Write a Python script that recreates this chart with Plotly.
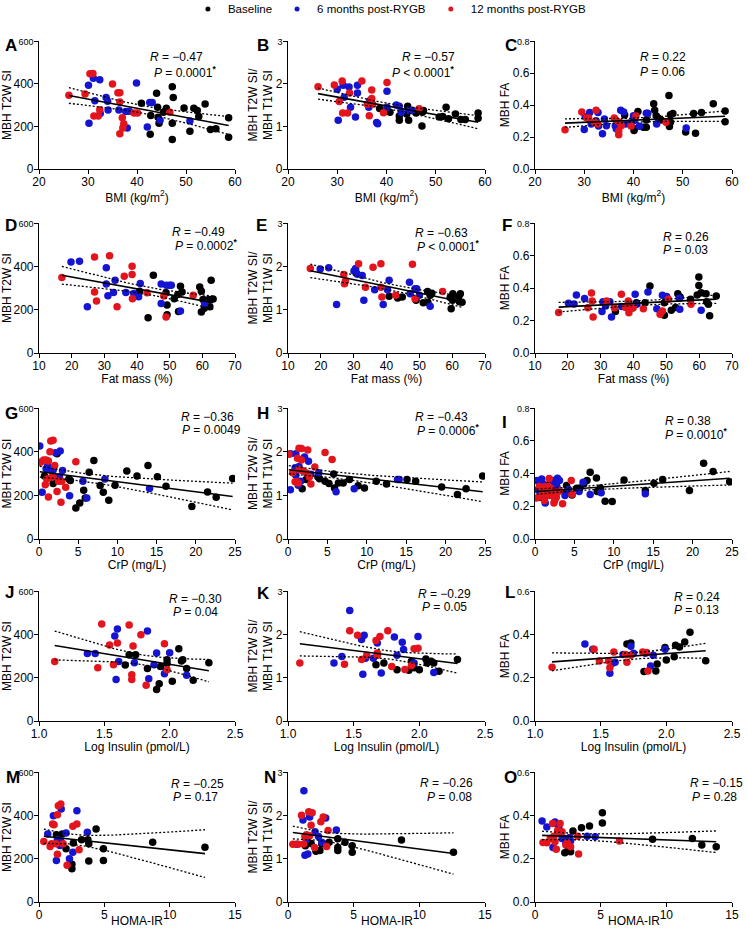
import numpy as np
import plotly.graph_objects as go

# ---------------- data: (x, y) per group ----------------
# A: BMI vs MBH T2W SI
A_base = [(40.9,308),(44.0,355),(44.2,289),(44.3,243),(44.5,215),(42.7,163),(42.8,251),(45.4,266),(46.0,285),(47.2,385),(47.4,335),(47.2,215),(47.2,138),(49.6,286),(51.6,285),(52.3,274),(52.6,246),(50.8,177),(53.9,305),(55.0,185),(56.1,189),(58.7,240),(58.7,149)]
A_six = [(30.1,392),(31.1,425),(32.4,418),(30.2,214),(31.4,320),(32.5,260),(33.7,335),(34.0,317),(34.1,277),(36.3,277),(37.7,269),(38.4,271),(38.0,192),(39.9,403),(42.1,197),(42.6,312),(43.1,312),(44.7,228),(50.8,225)]
A_twelve = [(26.1,346),(29.4,351),(30.4,446),(31.0,448),(31.2,249),(32.1,249),(32.4,278),(35.0,398),(36.1,358),(36.5,357),(36.5,314),(37.0,240),(37.3,212),(37.1,192),(36.5,165),(39.4,263),(40.1,262),(46.7,266)]

# B: BMI vs T2W/T1W ratio
B_base = [(38.6,1.42),(40.7,1.33),(42.6,1.24),(42.6,1.14),(44.1,1.29),(44.3,1.47),(44.5,1.14),(45.3,1.37),(46.0,1.31),(47.2,1.01),(47.3,1.33),(47.5,1.37),(50.7,1.22),(51.4,1.23),(52.1,1.45),(52.6,1.18),(54.0,1.29),(55.1,1.16),(56.0,1.16),(58.6,1.31),(58.6,1.19)]
B_six = [(30.2,1.14),(30.0,1.87),(31.2,1.96),(31.4,1.68),(32.4,1.92),(32.7,1.45),(33.7,1.22),(34.1,1.96),(34.1,1.78),(36.4,1.45),(36.6,1.60),(38.0,1.09),(38.2,1.06),(40.1,1.82),(40.1,1.45),(42.0,1.50),(42.6,1.47),(43.0,1.33),(44.6,1.37),(45.1,1.37)]
B_twelve = [(26.1,1.93),(29.4,1.97),(30.4,1.58),(31.0,2.06),(31.1,1.31),(32.1,1.31),(32.5,1.78),(35.0,2.06),(36.1,1.52),(36.5,1.25),(37.0,1.85),(37.0,1.65),(37.2,1.52),(39.4,1.32),(40.1,2.03),(46.6,1.41)]

# C: BMI vs MBH FA
C_base = [(38.2,0.337),(39.2,0.286),(40.1,0.241),(40.2,0.251),(40.9,0.359),(42.0,0.261),(42.6,0.261),(42.6,0.306),(44.1,0.408),(44.3,0.367),(44.6,0.333),(45.0,0.318),(45.6,0.306),(47.2,0.459),(47.3,0.265),(47.5,0.292),(47.5,0.339),(48.0,0.347),(50.6,0.231),(52.2,0.347),(52.6,0.224),(53.8,0.353),(56.2,0.408),(58.6,0.363),(58.6,0.296)]
C_six = [(30.0,0.247),(30.2,0.327),(31.1,0.353),(31.4,0.282),(32.4,0.302),(32.8,0.353),(32.9,0.269),(33.7,0.220),(34.1,0.312),(34.5,0.271),(36.3,0.271),(36.5,0.251),(37.4,0.367),(38.0,0.357),(38.4,0.282),(40.1,0.302),(40.0,0.333),(41.2,0.267),(42.6,0.349),(42.9,0.349),(44.7,0.282),(50.7,0.257)]
C_twelve = [(26.1,0.245),(29.5,0.357),(30.5,0.318),(30.9,0.318),(32.1,0.292),(32.4,0.367),(32.7,0.282),(36.1,0.318),(36.5,0.302),(37.0,0.214),(37.0,0.237),(37.2,0.292),(37.5,0.271),(39.5,0.269),(40.5,0.331),(46.6,0.292)]

# D: fat mass vs MBH T2W SI
D_base = [(40.8,285),(43.4,163),(45.0,359),(48.9,278),(49.2,221),(49.2,176),(51.4,250),(52.5,270),(52.7,191),(53.3,308),(53.8,282),(59.2,305),(59.7,285),(59.7,189),(60.2,247),(60.6,206),(60.9,244),(62.0,247),(62.3,214),(62.7,336),(63.3,249)]
D_six = [(19.8,420),(22.4,424),(24.8,214),(30.6,394),(30.6,318),(31.1,264),(32.8,279),(33.3,336),(36.6,279),(39.0,275),(40.5,260),(41.0,321),(47.4,318),(47.4,229),(49.0,313),(50.0,313),(50.5,313),(53.3,194),(60.7,229)]
D_twelve = [(17.0,348),(27.0,443),(31.6,449),(27.0,282),(27.6,240),(33.9,213),(36.1,354),(38.5,400),(38.5,362),(38.6,250),(43.1,278),(48.2,263),(48.9,166),(57.2,267)]

# E: fat mass vs ratio
E_base = [(40.8,1.31),(43.4,1.27),(44.8,1.29),(49.0,1.22),(51.2,1.16),(52.5,1.42),(52.6,1.17),(53.3,1.33),(53.8,1.38),(59.4,1.28),(59.7,1.02),(60.1,1.22),(60.2,1.37),(62.0,1.31),(62.2,1.18),(62.5,1.37),(63.0,1.17)]
E_six = [(19.8,1.94),(22.4,1.97),(24.8,1.12),(30.1,1.89),(30.6,1.95),(30.8,1.85),(31.1,1.82),(32.6,1.79),(33.1,1.22),(36.4,1.46),(39.0,1.12),(40.3,1.46),(40.8,1.68),(47.0,1.63),(47.2,1.37),(48.7,1.48),(49.2,1.48),(50.0,1.33),(53.3,1.08)]
E_twelve = [(16.8,1.95),(27.0,1.81),(27.2,1.60),(27.5,1.66),(31.5,2.06),(33.6,1.52),(35.9,1.98),(38.3,2.06),(38.3,1.52),(38.6,1.29),(42.8,1.33),(47.9,2.05),(48.7,1.25),(57.1,1.42)]

# F: fat mass vs FA
F_base = [(34.5,0.255),(40.9,0.310),(43.5,0.310),(45.0,0.412),(49.4,0.310),(49.4,0.233),(51.5,0.263),(52.8,0.280),(53.5,0.365),(54.2,0.345),(57.4,0.331),(59.4,0.357),(59.9,0.467),(59.9,0.416),(60.6,0.371),(62.1,0.365),(62.3,0.316),(62.8,0.300),(63.2,0.229),(65.2,0.351)]
F_six = [(20.2,0.306),(21.9,0.302),(22.6,0.357),(25.1,0.335),(30.4,0.255),(30.7,0.316),(31.5,0.290),(32.8,0.316),(33.3,0.222),(36.4,0.286),(38.4,0.284),(38.6,0.300),(40.5,0.361),(41.0,0.300),(44.4,0.376),(47.1,0.273),(48.8,0.355),(50.1,0.347),(53.9,0.337),(54.1,0.269),(60.6,0.263)]
F_twelve = [(17.2,0.249),(26.1,0.278),(27.2,0.369),(27.4,0.320),(27.7,0.222),(31.8,0.320),(34.2,0.278),(36.3,0.361),(37.6,0.280),(38.4,0.320),(38.6,0.247),(39.6,0.276),(39.9,0.278),(43.0,0.273),(48.1,0.239),(48.8,0.259),(50.6,0.331),(57.5,0.300)]

# G: CrP vs MBH T2W SI
G_base = [(0.7,288),(1.8,254),(2.3,391),(2.6,280),(3.8,275),(4.0,268),(4.7,142),(5.2,165),(5.7,223),(5.9,188),(6.4,306),(7.0,360),(7.8,245),(8.2,214),(8.9,177),(9.7,246),(11.2,311),(12.5,288),(13.9,337),(15.1,285),(16.2,242),(19.5,149),(21.5,215),(22.6,191),(24.7,277)]
G_six = [(0.1,426),(0.4,214),(0.9,322),(1.1,334),(1.3,322),(1.5,318),(1.8,315),(2.1,395),(2.7,403),(3.0,314),(2.6,285),(3.9,198),(5.6,265),(6.1,188),(8.4,275),(14.1,231)]
G_twelve = [(0.2,352),(0.6,362),(0.9,362),(0.8,249),(1.0,275),(1.2,357),(1.2,192),(1.4,400),(1.5,449),(1.8,452),(1.6,283),(1.8,285),(2.0,337),(2.3,218),(2.5,265),(2.8,168),(2.9,265),(3.4,237),(4.7,354)]

# H: CrP vs ratio
H_base = [(1.8,1.15),(2.3,1.36),(3.8,1.42),(4.0,1.38),(4.7,1.32),(5.2,1.27),(5.8,1.49),(5.9,1.17),(6.4,1.28),(7.0,1.28),(7.8,1.36),(8.9,1.22),(9.7,1.17),(11.2,1.32),(12.5,1.26),(15.1,1.36),(16.2,1.32),(19.5,1.19),(21.5,1.02),(22.6,1.15),(24.7,1.44)]
H_six = [(0.3,1.13),(0.3,1.95),(0.9,1.63),(1.0,1.95),(1.0,1.46),(1.3,1.23),(1.4,1.66),(1.6,1.32),(2.1,1.88),(2.6,1.78),(2.9,1.48),(3.9,1.52),(6.1,1.08),(8.4,1.15),(13.9,1.36),(14.1,1.36)]
H_twelve = [(0.1,1.94),(0.6,1.52),(0.9,1.31),(1.1,1.31),(1.2,1.85),(1.3,1.28),(1.4,1.59),(1.4,2.08),(1.7,2.07),(1.7,1.81),(1.8,1.57),(2.3,1.52),(2.5,2.04),(2.7,1.42),(2.9,1.26),(3.4,1.65),(4.7,1.98),(5.6,1.82)]

# I: CrP vs FA
I_base = [(0.65,0.255),(1.8,0.333),(2.1,0.286),(4.0,0.327),(3.9,0.286),(4.7,0.269),(5.3,0.310),(5.7,0.312),(6.2,0.337),(6.6,0.357),(7.0,0.408),(7.8,0.373),(7.9,0.290),(8.3,0.312),(8.9,0.231),(9.8,0.229),(11.3,0.361),(14.0,0.296),(15.1,0.341),(16.2,0.363),(19.6,0.296),(21.4,0.463),(22.6,0.412),(24.7,0.349)]
I_six = [(0.2,0.357),(0.35,0.300),(0.85,0.367),(1.0,0.337),(1.2,0.276),(1.3,0.220),(1.5,0.300),(1.6,0.265),(1.9,0.296),(2.2,0.337),(2.3,0.357),(2.7,0.337),(2.85,0.371),(3.1,0.357),(2.8,0.316),(3.8,0.265),(4.25,0.302),(5.6,0.290),(6.1,0.347),(7.0,0.271),(8.4,0.282),(14.0,0.276)]
I_twelve = [(0.2,0.250),(0.55,0.320),(0.85,0.260),(1.0,0.290),(1.2,0.235),(1.3,0.320),(1.5,0.275),(1.7,0.320),(1.8,0.370),(1.9,0.265),(2.0,0.310),(2.3,0.280),(2.5,0.235),(2.7,0.255),(2.85,0.285),(3.1,0.295),(3.5,0.216),(4.6,0.357),(4.7,0.273),(2.4,0.220)]

# J: log insulin vs MBH T2W SI
J_base = [(1.66,258),(1.69,306),(1.74,306),(1.83,242),(1.90,145),(1.92,172),(1.93,252),(1.98,283),(1.98,265),(2.02,183),(2.07,334),(2.09,277),(2.10,283),(2.13,242),(2.18,188),(2.30,269)]
J_six = [(1.37,312),(1.43,311),(1.58,392),(1.60,425),(1.59,191),(1.61,275),(1.73,269),(1.83,415),(1.84,195),(1.88,260),(1.90,314),(1.96,218),(2.00,315),(2.13,211)]
J_twelve = [(1.12,275),(1.45,246),(1.48,448),(1.54,351),(1.57,260),(1.60,360),(1.69,443),(1.71,191),(1.71,214),(1.72,346),(1.78,398),(1.82,165),(1.96,357),(1.98,237)]

# K: log insulin vs ratio
K_base = [(1.67,1.30),(1.73,1.34),(1.83,1.18),(1.92,1.17),(1.94,1.38),(1.96,1.23),(2.00,1.18),(2.05,1.43),(2.06,1.34),(2.09,1.38),(2.11,1.34),(2.15,1.15),(2.29,1.42)]
K_six = [(1.35,1.34),(1.41,1.49),(1.47,2.55),(1.57,1.08),(1.56,1.88),(1.58,1.98),(1.59,1.45),(1.65,1.45),(1.68,1.80),(1.71,1.11),(1.81,1.94),(1.83,1.52),(1.87,1.82),(1.88,1.65),(1.96,1.34),(1.99,1.95),(2.11,1.12)]
K_twelve = [(1.09,1.34),(1.43,1.31),(1.47,2.08),(1.53,1.98),(1.56,1.42),(1.60,1.52),(1.67,1.86),(1.68,1.57),(1.68,1.52),(1.70,1.95),(1.76,2.08),(1.79,1.26),(1.89,1.19),(1.94,1.28),(1.96,1.67),(1.99,1.68)]

# L: log insulin vs FA
L_base = [(1.70,0.355),(1.73,0.360),(1.83,0.228),(1.92,0.231),(1.93,0.263),(1.99,0.339),(2.00,0.281),(2.06,0.296),(2.07,0.350),(2.10,0.342),(2.14,0.365),(2.18,0.410),(2.30,0.278)]
L_six = [(1.38,0.355),(1.44,0.331),(1.57,0.220),(1.59,0.266),(1.61,0.271),(1.67,0.307),(1.73,0.345),(1.75,0.313),(1.84,0.313),(1.88,0.254),(1.90,0.304),(1.99,0.331)]
L_twelve = [(1.13,0.248),(1.45,0.331),(1.49,0.277),(1.56,0.277),(1.57,0.246),(1.60,0.319),(1.69,0.307),(1.70,0.271),(1.73,0.304),(1.82,0.319),(1.85,0.316),(1.86,0.231)]

# M: HOMA-IR vs MBH T2W SI
M_base = [(1.33,310),(1.78,314),(2.07,246),(2.52,174),(2.52,154),(2.63,272),(3.26,287),(3.74,287),(3.81,269),(3.81,189),(4.37,337),(4.93,246),(4.93,192),(8.7,276),(12.7,253)]
M_six = [(0.67,314),(1.10,398),(1.33,192),(1.41,287),(1.52,269),(1.67,279),(1.70,429),(1.60,261),(2.07,318),(2.33,200),(2.59,230),(2.90,421),(3.70,322)]
M_twelve = [(0.37,279),(0.85,256),(0.96,269),(1.04,360),(1.15,356),(1.30,269),(1.41,403),(1.48,444),(1.67,452),(1.41,220),(1.85,269),(2.15,170),(2.59,350),(2.90,360),(3.07,241)]

# N: HOMA-IR vs ratio
N_base = [(1.32,1.30),(1.76,1.35),(2.13,1.17),(2.43,1.19),(2.57,1.34),(3.13,1.38),(3.79,1.46),(3.79,1.26),(3.79,1.19),(4.34,1.38),(4.89,1.30),(4.89,1.15),(8.64,1.43),(12.6,1.15)]
N_six = [(0.66,1.33),(1.14,1.89),(1.21,2.57),(1.29,1.08),(1.51,1.11),(1.40,1.44),(1.65,1.96),(2.06,1.62),(2.32,1.51),(2.57,1.38),(2.87,1.94),(3.68,1.66)]
N_twelve = [(0.37,1.33),(0.77,1.33),(1.03,2.00),(1.20,1.34),(1.29,1.51),(1.40,1.55),(1.58,2.08),(1.65,1.53),(1.76,1.77),(1.84,2.06),(2.02,1.26),(2.50,1.85),(2.68,1.96),(2.94,1.28),(3.05,1.65)]

# O: HOMA-IR vs FA
O_base = [(2.27,0.293),(2.27,0.227),(2.53,0.240),(2.71,0.232),(2.89,0.328),(3.54,0.343),(4.15,0.351),(5.13,0.412),(5.13,0.365),(8.95,0.290),(11.98,0.293),(12.7,0.263),(13.8,0.255)]
O_six = [(0.54,0.374),(0.90,0.346),(1.37,0.252),(1.52,0.369),(1.70,0.359),(1.81,0.343),(2.06,0.293),(2.35,0.273),(2.64,0.298),(2.71,0.282),(3.97,0.304),(4.58,0.301)]
O_twelve = [(0.61,0.275),(0.90,0.273),(1.16,0.293),(1.34,0.362),(1.44,0.304),(1.52,0.278),(1.62,0.244),(1.73,0.331),(1.81,0.319),(1.91,0.362),(2.06,0.324),(2.35,0.263),(2.45,0.273),(2.71,0.255),(3.25,0.304),(3.32,0.221),(6.43,0.282)]

panel_letters = list("ABCDEFGHIJKLMNO")
r_text = ["−0.47", "−0.57", "0.22", "−0.49", "−0.63", "0.26", "−0.36", "−0.43", "0.38",
          "−0.30", "−0.29", "0.24", "−0.25", "−0.26", "−0.15"]
p_text = ["= 0.0001", "< 0.0001", "= 0.06", "= 0.0002", "< 0.0001", "= 0.03", "= 0.0049", "= 0.0006", "= 0.0010",
          "= 0.04", "= 0.05", "= 0.13", "= 0.17", "= 0.08", "= 0.28"]
p_star = [1, 1, 0, 1, 1, 0, 0, 1, 1, 0, 0, 0, 0, 0, 0]

row_xlabels = ["BMI (kg/m<sup>2</sup>)", "Fat mass (%)", "CrP (mg/L)", "Log Insulin (pmol/L)", "HOMA-IR"]
col_ylabels = ["MBH T2W SI", "MBH T2W SI/<br>MBH T1W SI", "MBH FA"]
group_names = ["Baseline", "6 months post-RYGB", "12 months post-RYGB"]
group_colors = ["#000000", "#1414d2", "#e3141c"]

datasets = [
    (A_base, A_six, A_twelve), (B_base, B_six, B_twelve), (C_base, C_six, C_twelve),
    (D_base, D_six, D_twelve), (E_base, E_six, E_twelve), (F_base, F_six, F_twelve),
    (G_base, G_six, G_twelve), (H_base, H_six, H_twelve), (I_base, I_six, I_twelve),
    (J_base, J_six, J_twelve), (K_base, K_six, K_twelve), (L_base, L_six, L_twelve),
    (M_base, M_six, M_twelve), (N_base, N_six, N_twelve), (O_base, O_six, O_twelve),
]

# axis settings per row / column
row_xaxis = [dict(range=[20, 60], dtick=10), dict(range=[10, 70], dtick=10), dict(range=[0, 25], dtick=5),
             dict(range=[1.0, 2.5], dtick=0.5, tickformat=".1f"), dict(range=[0, 15], dtick=5)]
y_ticks_600 = [0, 200, 400, 600]
y_ticks_3 = [0, 1, 2, 3]
y_ticks_08 = [0.0, 0.2, 0.4, 0.6, 0.8]
y_ticks_06 = [0.0, 0.2, 0.4, 0.6]
y_ticks = [y_ticks_600, y_ticks_3, y_ticks_08,
           y_ticks_600, y_ticks_3, y_ticks_08,
           y_ticks_600, y_ticks_3, y_ticks_08,
           y_ticks_600, y_ticks_3, y_ticks_06,
           y_ticks_600, y_ticks_3, y_ticks_06]

# ---------------- layout geometry (pixels) ----------------
W, H = 747, 930
col_px = [(39, 235), (288, 485), (535, 732)]
row_px = [(41, 169), (223, 353), (408, 539), (591, 721), (772, 902)]
letter_px = [(3, 46), (255, 46), (503, 46), (3, 225), (254, 225), (500, 225),
             (3, 413), (255, 413), (500, 422), (3, 592), (255, 593), (503, 592),
             (4, 777), (262, 777), (502, 777)]
stat_px = [(148, 57, 152, 72), (400, 57, 390, 72), (638, 57, 638, 72),
           (170, 232, 173, 245), (413, 233, 415, 246), (661, 237, 661, 250),
           (179, 417, 180, 430), (413, 417, 415, 430), (663, 421, 663, 434),
           (167, 599, 171, 612), (416, 594, 420, 607), (672, 597, 672, 610),
           (169, 784, 171, 797), (418, 783, 425, 797), (688, 783, 690, 797)]
bottom_title_y = 921


def px(x):
    return x / W


def py(y):
    return 1 - y / H


def fit_band(xs, ys, t=2.0):
    x = np.asarray(xs, float)
    y = np.asarray(ys, float)
    n = len(x)
    b, a = np.polyfit(x, y, 1)
    gx = np.linspace(x.min(), x.max(), 60)
    yhat = a + b * gx
    s = np.sqrt(((y - (a + b * x)) ** 2).sum() / (n - 2))
    sxx = ((x - x.mean()) ** 2).sum()
    se = s * np.sqrt(1 / n + (gx - x.mean()) ** 2 / sxx)
    return gx, yhat, yhat - t * se, yhat + t * se


fig = go.Figure()
font = "Arial, Liberation Sans, sans-serif"
tfont = dict(family=font, size=12, color="black")
annotations = []

for i, groups in enumerate(datasets):
    row, col = divmod(i, 3)
    sfx = "" if i == 0 else str(i + 1)
    xa, ya = "x" + sfx, "y" + sfx

    all_x, all_y = [], []
    for g, pts in enumerate(groups):
        gx = [p[0] for p in pts]
        gy = [p[1] for p in pts]
        all_x += gx
        all_y += gy
        fig.add_trace(go.Scatter(x=gx, y=gy, mode="markers", xaxis=xa, yaxis=ya,
                                 marker=dict(color=group_colors[g], size=7.5),
                                 showlegend=False, hoverinfo="skip"))

    fx, fy, lo, hi = fit_band(all_x, all_y)
    fig.add_trace(go.Scatter(x=fx, y=fy, mode="lines", xaxis=xa, yaxis=ya,
                             line=dict(color="black", width=1.6), showlegend=False))
    for band in (lo, hi):
        fig.add_trace(go.Scatter(x=fx, y=band, mode="lines", xaxis=xa, yaxis=ya,
                                 line=dict(color="black", width=1.3, dash="2px,2px"), showlegend=False))

    x0, x1 = col_px[col]
    y0, y1 = row_px[row]
    yt = y_ticks[i]
    fmt = (lambda v: "%.1f" % v) if yt[-1] < 1 else (lambda v: "%d" % v)
    ytext = [fmt(v) for v in yt]
    ytext[-1] = "<span style='font-size:9px'>" + ytext[-1] + "</span>"   # small top label, Prism-style

    xtitle = row_xlabels[row] if i != 8 else "CrP (mgl/L)"
    fig.layout["xaxis" + sfx] = dict(
        domain=[px(x0), px(x1)], anchor=ya, range=row_xaxis[row]["range"],
        dtick=row_xaxis[row]["dtick"], tick0=row_xaxis[row]["range"][0],
        tickformat=row_xaxis[row].get("tickformat"), automargin=False,
        showline=True, linecolor="black", linewidth=1.2, ticks="outside", ticklen=4,
        tickcolor="black", showgrid=False, zeroline=False, ticklabelstandoff=-3,
        tickfont=tfont,
        title=dict(text=xtitle if row < 4 else "", font=tfont, standoff=3))
    fig.layout["yaxis" + sfx] = dict(
        domain=[py(y1), py(y0)], anchor=xa, range=[yt[0], yt[-1]],
        tickvals=yt, ticktext=ytext, automargin=False,
        showline=True, linecolor="black", linewidth=1.2, ticks="outside", ticklen=4,
        tickcolor="black", showgrid=False, zeroline=False, ticklabelstandoff=-2,
        tickfont=tfont,
        title=dict(text=col_ylabels[col], font=tfont, standoff=0))

    if row == 4:
        # bottom-row x titles sit just above the page edge
        annotations.append(dict(x=px((x0 + x1) / 2), y=py(bottom_title_y), xref="paper", yref="paper",
                                xanchor="center", yanchor="middle", text=xtitle, showarrow=False, font=tfont))

    lx, ly = letter_px[i]
    annotations.append(dict(x=px(lx), y=py(ly), xref="paper", yref="paper", xanchor="left", yanchor="middle",
                            text="<b>" + panel_letters[i] + "</b>", showarrow=False,
                            font=dict(family=font, size=17, color="black")))
    rx, ry, qx, qy = stat_px[i]
    annotations.append(dict(x=px(rx), y=py(ry), xref="paper", yref="paper", xanchor="left", yanchor="middle",
                            text="<i>R</i> = " + r_text[i], showarrow=False, font=tfont))
    star = "<sup><b>*</b></sup>" if p_star[i] else ""
    annotations.append(dict(x=px(qx), y=py(qy), xref="paper", yref="paper", xanchor="left", yanchor="middle",
                            text="<i>P</i> " + p_text[i] + star, showarrow=False, font=tfont))

# legend entries
for g in range(3):
    fig.add_trace(go.Scatter(x=[None], y=[None], mode="markers", name=group_names[g],
                             marker=dict(color=group_colors[g], size=5), showlegend=True))

fig.update_layout(
    template="none",
    width=W, height=H, margin=dict(l=0, r=0, t=0, b=0, autoexpand=False),
    paper_bgcolor="white", plot_bgcolor="white",
    font=tfont,
    showlegend=True,
    legend=dict(orientation="h", x=0.522, xanchor="center", y=1.006, yanchor="top",
                font=dict(family=font, size=11.5, color="black"), itemwidth=30,
                bgcolor="rgba(0,0,0,0)"),
    annotations=annotations,
)

# page body has a default 8px margin; remove it so the figure sits at the window origin
fig.write_html("out.html", config={"displayModeBar": False},
               post_script="document.body.style.margin='0px';")
